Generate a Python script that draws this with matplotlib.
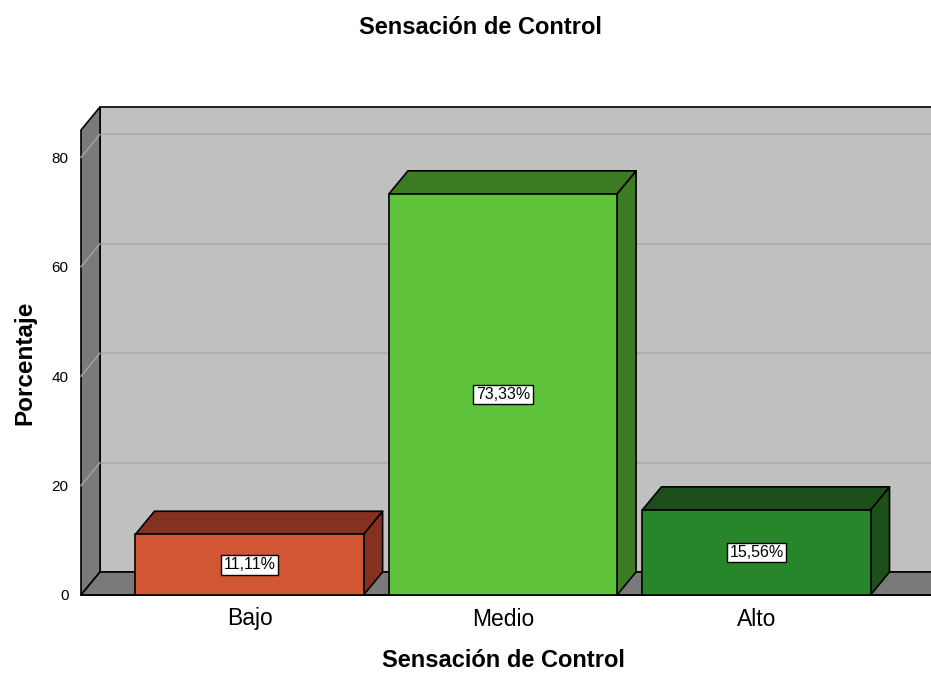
import matplotlib.pyplot as plt
from matplotlib.patches import Polygon, Rectangle

categories = ["Bajo", "Medio", "Alto"]
values = [11.11, 73.33, 15.56]
labels = ["11,11%", "73,33%", "15,56%"]
yticks = [0, 20, 40, 60, 80]

front_colors = ["#D25534", "#5EC23A", "#27862A"]
dark_colors = ["#843120", "#3C7A24", "#1C4F19"]

plt.rcParams['font.family'] = ['Liberation Sans', 'DejaVu Sans']

fig = plt.figure(figsize=(9.31, 6.75), dpi=100)
ax = fig.add_axes([81 / 931, 80 / 675, 844 / 931, 465 / 675])
x0, x1 = -0.665, len(categories) - 1 + 0.665
ymax = 85
ax.set_xlim(x0, x1)
ax.set_ylim(0, ymax)
for s in ax.spines.values():
    s.set_visible(False)
ax.patch.set_visible(False)

# depth of the 3d effect in pixels, converted to data units
fig.canvas.draw()
inv = ax.transData.inverted()
p0 = inv.transform(ax.transData.transform((0, 0)))
p1 = inv.transform(ax.transData.transform((0, 0)) + [19, 23])
dx, dy = p1 - p0

kw = dict(clip_on=False, linewidth=1.2, edgecolor="black", joinstyle="round")

# back wall, left wall, floor
ax.add_patch(Rectangle((x0 + dx, dy), (x1 - x0) + 1, ymax, facecolor="#C0C0C0", zorder=0, **kw))
ax.add_patch(Polygon([(x0, 0), (x0 + dx, dy), (x0 + dx, ymax + dy), (x0, ymax)],
                     facecolor="#7A7A7A", zorder=1, **kw))
ax.add_patch(Polygon([(x0, 0), (x1 + 1, 0), (x1 + 1, dy), (x0 + dx, dy)],
                     facecolor="#7A7A7A", zorder=1, **kw))

# gridlines on the walls
for t in yticks[1:]:
    ax.plot([x0 + dx, x1 + 1], [t + dy, t + dy], color="#ABABAB", lw=1.2, zorder=0.5, clip_on=False)
    ax.plot([x0, x0 + dx], [t, t + dy], color="#A5A5A5", lw=1.0, zorder=1.5, clip_on=False)

# bars
w = 0.9
for i, (v, fc, dc, lab) in enumerate(zip(values, front_colors, dark_colors, labels)):
    l, r = i - w / 2, i + w / 2
    ax.add_patch(Polygon([(r, 0), (r + dx, dy), (r + dx, v + dy), (r, v)], facecolor=dc, zorder=3, **kw))
    ax.add_patch(Polygon([(l, v), (r, v), (r + dx, v + dy), (l + dx, v + dy)], facecolor=dc, zorder=3, **kw))
    ax.add_patch(Rectangle((l, 0), w, v, facecolor=fc, zorder=4, **kw))
    ax.text(i, v / 2, lab, ha="center", va="center", fontsize=11.5, zorder=5,
            bbox=dict(boxstyle="square,pad=0.15", facecolor="white", edgecolor="black", linewidth=1))

ax.plot([x0, x1 + 1], [0, 0], color="black", lw=1.2, zorder=2, clip_on=False)

ax.set_yticks(yticks)
ax.set_yticklabels([str(t) for t in yticks], fontsize=11)
ax.set_xticks(range(len(categories)))
ax.set_xticklabels(categories, fontsize=16.5)
ax.tick_params(axis="y", length=0, pad=9)
ax.tick_params(axis="x", length=0, pad=9)

ax.set_ylabel("Porcentaje", fontsize=17.5, fontweight="bold", labelpad=11)
ax.set_xlabel("Sensación de Control", fontsize=17, fontweight="bold", labelpad=13)
fig.text(480 / 931, 1 - 27 / 675, "Sensación de Control", ha="center", va="center",
         fontsize=17, fontweight="bold")

fig.savefig("out.png", dpi=100)
